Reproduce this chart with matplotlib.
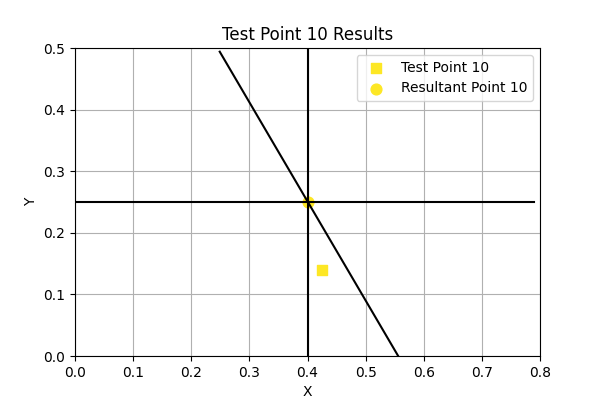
import matplotlib
matplotlib.use("Agg")
import matplotlib.pyplot as plt

# Data
test_point = (0.425, 0.14)
resultant_point = (0.40, 0.25)

horiz_x = [0.0, 0.79]
horiz_y = [0.25, 0.25]
vert_x = [0.40, 0.40]
vert_y = [0.0, 0.5]
diag_x = [0.249, 0.556]
diag_y = [0.494, 0.0]

point_color = '#fde725'

fig, ax = plt.subplots(figsize=(6, 4), dpi=100)

ax.scatter(test_point[0], test_point[1], marker='s', s=60, color=point_color, label='Test Point 10', zorder=1)
ax.scatter(resultant_point[0], resultant_point[1], marker='o', s=60, color=point_color, label='Resultant Point 10', zorder=1)

ax.plot(horiz_x, horiz_y, color='black', zorder=2)
ax.plot(vert_x, vert_y, color='black', zorder=2)
ax.plot(diag_x, diag_y, color='black', zorder=2)

ax.set_xlim(0, 0.8)
ax.set_ylim(0, 0.5)
ax.set_title('Test Point 10 Results')
ax.set_xlabel('X')
ax.set_ylabel('Y')
ax.grid()
ax.legend(loc='upper right')

fig.savefig('out.png', dpi=100)
